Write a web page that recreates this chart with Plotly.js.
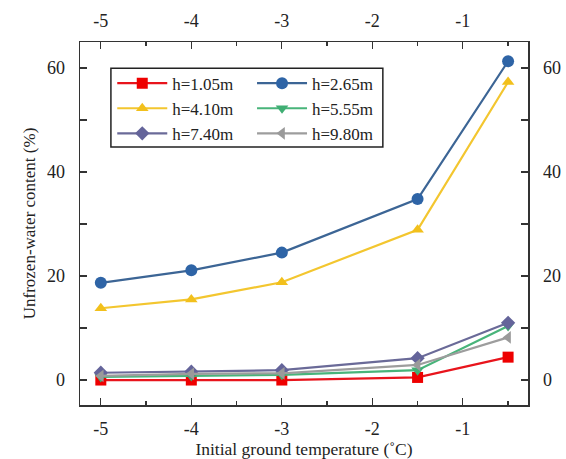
<!DOCTYPE html>
<html>
<head>
<meta charset="utf-8">
<script src="https://cdn.plot.ly/plotly-3.0.1.min.js"></script>
<style>html,body{margin:0;padding:0;background:#fff;}#chart{width:566px;height:459px;}</style>
</head>
<body>
<div id="chart"></div>
<script>
// Initial ground temperature (°C)
const temps = [-5, -4, -3, -1.5, -0.5];
// Unfrozen water content (%) for each depth
const h105 = [0.0, 0.0, 0.0, 0.5, 4.4];
const h265 = [18.7, 21.1, 24.5, 34.8, 61.3];
const h410 = [13.8, 15.5, 18.8, 28.9, 57.3];
const h555 = [0.6, 0.8, 1.0, 1.9, 10.4];
const h740 = [1.4, 1.6, 1.9, 4.2, 11.0];
const h980 = [0.8, 1.2, 1.3, 2.9, 8.2];
const names = ['h=1.05m', 'h=2.65m', 'h=4.10m', 'h=5.55m', 'h=7.40m', 'h=9.80m'];
const xTicks = [-5, -4, -3, -2, -1];
const yTicks = [0, 20, 40, 60];

const series = [
  {y: h105, name: names[0], color: '#e8141c', mcolor: '#ee0000', symbol: 'square', size: 11, legend: 'legend'},
  {y: h265, name: names[1], color: '#3c6595', mcolor: '#2e64a6', symbol: 'circle', size: 12, legend: 'legend2'},
  {y: h410, name: names[2], color: '#f3c62f', mcolor: '#f2c01c', symbol: 'triangle-up', size: 11, legend: 'legend'},
  {y: h555, name: names[3], color: '#48b47a', mcolor: '#3fae73', symbol: 'triangle-down', size: 11, legend: 'legend2'},
  {y: h740, name: names[4], color: '#6a6a98', mcolor: '#64649a', symbol: 'diamond', size: 11, legend: 'legend'},
  {y: h980, name: names[5], color: '#9d9d9d', mcolor: '#9a9a9a', symbol: 'triangle-left', size: 11, legend: 'legend2'}
];

const traces = series.map(s => ({
  x: temps, y: s.y, name: s.name, type: 'scatter', mode: 'lines+markers',
  legend: s.legend,
  line: {color: s.color, width: 2.2},
  marker: {color: s.mcolor, symbol: s.symbol, size: s.size, line: {width: 0}}
}));
// invisible trace to carry the mirrored top/right axes
traces.push({x: temps, y: h265, xaxis: 'x2', yaxis: 'y2', mode: 'markers',
  marker: {opacity: 0}, showlegend: false, hoverinfo: 'skip'});

const font = {family: 'Liberation Serif', color: '#222'};
const axisCommon = {
  showgrid: false, zeroline: false, showline: true, linecolor: '#333', linewidth: 1.5,
  ticks: 'inside', ticklen: 7, tickwidth: 1.3, tickcolor: '#333',
  tickfont: Object.assign({size: 18}, font)
};

const layout = {
  width: 566, height: 459,
  margin: {l: 80, r: 38, t: 42, b: 54},
  paper_bgcolor: '#fff', plot_bgcolor: '#fff',
  font: font,
  showlegend: true,
  xaxis: Object.assign({}, axisCommon, {
    range: [-5.23, -0.28], tickvals: xTicks, ticktext: xTicks.map(String),
    minor: {dtick: 0.5, ticks: 'inside', ticklen: 4, tickcolor: '#333', tickwidth: 1.2},
    ticklabelstandoff: 7,
    title: {text: 'Initial ground temperature (˚C)', font: Object.assign({size: 17.5}, font), standoff: 5}
  }),
  yaxis: Object.assign({}, axisCommon, {
    range: [-4.8, 65], tickvals: yTicks, ticktext: yTicks.map(String),
    minor: {dtick: 10, ticks: 'inside', ticklen: 7, tickcolor: '#333', tickwidth: 1.2},
    ticklabelstandoff: 10,
    title: {text: 'Unfrozen-water content (%)', font: Object.assign({size: 17}, font), standoff: 7}
  }),
  xaxis2: Object.assign({}, axisCommon, {
    overlaying: 'x', side: 'top', anchor: 'y2', matches: 'x',
    tickvals: xTicks, ticktext: xTicks.map(String),
    minor: {dtick: 0.5, ticks: 'inside', ticklen: 4, tickcolor: '#333', tickwidth: 1.2},
    ticklabelstandoff: 6
  }),
  yaxis2: Object.assign({}, axisCommon, {
    overlaying: 'y', side: 'right', anchor: 'x2', matches: 'y',
    tickvals: yTicks, ticktext: yTicks.map(String),
    minor: {dtick: 10, ticks: 'inside', ticklen: 7, tickcolor: '#333', tickwidth: 1.2},
    ticklabelstandoff: 10
  }),
  legend: {x: 0.072, y: 0.935, xanchor: 'left', yanchor: 'top', bgcolor: 'rgba(0,0,0,0)',
    borderwidth: 0, itemwidth: 50, font: Object.assign({size: 17}, font), tracegroupgap: 0},
  legend2: {x: 0.384, y: 0.935, xanchor: 'left', yanchor: 'top', bgcolor: 'rgba(0,0,0,0)',
    borderwidth: 0, itemwidth: 50, font: Object.assign({size: 17}, font), tracegroupgap: 0},
  shapes: [{type: 'rect', xref: 'paper', yref: 'paper', x0: 0.069, x1: 0.676, y0: 0.711, y1: 0.928,
    line: {color: '#222', width: 1.5}, fillcolor: 'rgba(0,0,0,0)'}]
};

Plotly.newPlot('chart', traces, layout, {displayModeBar: false, staticPlot: true});
</script>
</body>
</html>
